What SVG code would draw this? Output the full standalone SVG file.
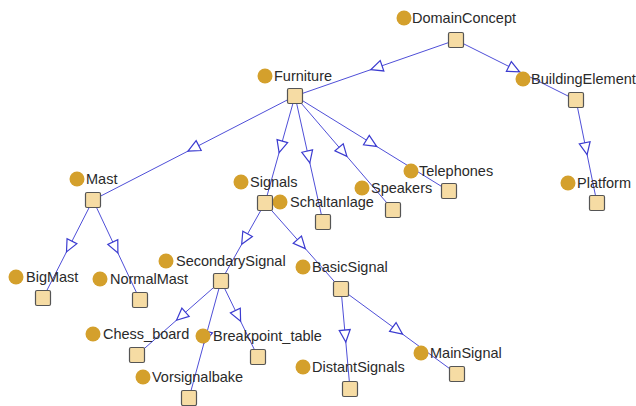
<svg xmlns="http://www.w3.org/2000/svg" width="636" height="406" viewBox="0 0 636 406">
<style>
.e{fill:none;stroke:#4f4fd8;stroke-width:1;marker-mid:url(#tri)}
.c{fill:#D4A02C}
.s{fill:#F6DCA4;stroke:#555;stroke-width:1.2}
.t{font-family:"Liberation Sans",Arial,sans-serif;font-size:14.5px;fill:#2a2a2a}
</style>
<defs>
<marker id="tri" markerUnits="userSpaceOnUse" markerWidth="16" markerHeight="14" viewBox="-13 -7 15 14" refX="0" refY="0" orient="auto">
<path d="M0,0 L-12,-5.5 L-12,5.5 Z" fill="#fff" stroke="#3b3bd0" stroke-width="1.2"/>
</marker>
</defs>
<rect width="636" height="406" fill="#fff"/>
<g id="connectors">
<path class="e" d="M456,40 L370.7,69.7 L295,96"/>
<path class="e" d="M456,40 L519.6,71.8 L576,100"/>
<path class="e" d="M576,100 L587.1,154.6 L597,203"/>
<path class="e" d="M295,96 L188,151.1 L93,200"/>
<path class="e" d="M295,96 L279.1,152.7 L265,203"/>
<path class="e" d="M295,96 L309.8,162.8 L323,222"/>
<path class="e" d="M295,96 L346.9,156.4 L393,210"/>
<path class="e" d="M295,96 L376.6,146.4 L449,191"/>
<path class="e" d="M93,200 L66.5,251.9 L43,298"/>
<path class="e" d="M93,200 L117.9,253 L140,300"/>
<path class="e" d="M265,203 L241.7,244.3 L221,281"/>
<path class="e" d="M265,203 L305.3,248.6 L341,289"/>
<path class="e" d="M221,281 L176.5,320.2 L137,355"/>
<path class="e" d="M221,281 L240.6,321.3 L258,357"/>
<path class="e" d="M221,281 L204,343 L189,398"/>
<path class="e" d="M341,289 L345.8,342 L350,389"/>
<path class="e" d="M341,289 L402.5,334.1 L457,374"/>
</g>
<g id="DomainConcept"><circle class="c" cx="404" cy="18" r="7.5"/><text class="t" x="412" y="23">DomainConcept</text><rect class="s" x="448.5" y="32.5" width="15" height="15" rx="1.5"/></g>
<g id="BuildingElement"><circle class="c" cx="523" cy="79" r="7.5"/><text class="t" x="531" y="84">BuildingElement</text><rect class="s" x="568.5" y="92.5" width="15" height="15" rx="1.5"/></g>
<g id="Furniture"><circle class="c" cx="265" cy="76" r="7.5"/><text class="t" x="274" y="81">Furniture</text><rect class="s" x="287.5" y="88.5" width="15" height="15" rx="1.5"/></g>
<g id="Telephones"><circle class="c" cx="411" cy="171" r="7.5"/><text class="t" x="419" y="176">Telephones</text><rect class="s" x="441.5" y="183.5" width="15" height="15" rx="1.5"/></g>
<g id="Speakers"><circle class="c" cx="362" cy="188" r="7.5"/><text class="t" x="371" y="193">Speakers</text><rect class="s" x="385.5" y="202.5" width="15" height="15" rx="1.5"/></g>
<g id="Schaltanlage"><circle class="c" cx="280" cy="202" r="7.5"/><text class="t" x="290" y="207">Schaltanlage</text><rect class="s" x="315.5" y="214.5" width="15" height="15" rx="1.5"/></g>
<g id="Signals"><circle class="c" cx="241" cy="182" r="7.5"/><text class="t" x="250" y="187">Signals</text><rect class="s" x="257.5" y="195.5" width="15" height="15" rx="1.5"/></g>
<g id="Mast"><circle class="c" cx="77" cy="179" r="7.5"/><text class="t" x="86" y="184">Mast</text><rect class="s" x="85.5" y="192.5" width="15" height="15" rx="1.5"/></g>
<g id="BigMast"><circle class="c" cx="16" cy="277" r="7.5"/><text class="t" x="26" y="282">BigMast</text><rect class="s" x="35.5" y="290.5" width="15" height="15" rx="1.5"/></g>
<g id="NormalMast"><circle class="c" cx="100" cy="279" r="7.5"/><text class="t" x="110" y="284">NormalMast</text><rect class="s" x="132.5" y="292.5" width="15" height="15" rx="1.5"/></g>
<g id="SecondarySignal"><circle class="c" cx="166" cy="261" r="7.5"/><text class="t" x="176" y="266">SecondarySignal</text><rect class="s" x="213.5" y="273.5" width="15" height="15" rx="1.5"/></g>
<g id="Chess_board"><circle class="c" cx="93" cy="334" r="7.5"/><text class="t" x="103" y="339">Chess_board</text><rect class="s" x="129.5" y="347.5" width="15" height="15" rx="1.5"/></g>
<g id="Breakpoint_table"><circle class="c" cx="203" cy="336" r="7.5"/><text class="t" x="213" y="341">Breakpoint_table</text><rect class="s" x="250.5" y="349.5" width="15" height="15" rx="1.5"/></g>
<g id="Vorsignalbake"><circle class="c" cx="143" cy="377" r="7.5"/><text class="t" x="152" y="382">Vorsignalbake</text><rect class="s" x="181.5" y="390.5" width="15" height="15" rx="1.5"/></g>
<g id="BasicSignal"><circle class="c" cx="303" cy="267" r="7.5"/><text class="t" x="312" y="272">BasicSignal</text><rect class="s" x="333.5" y="281.5" width="15" height="15" rx="1.5"/></g>
<g id="DistantSignals"><circle class="c" cx="303" cy="367" r="7.5"/><text class="t" x="312" y="372">DistantSignals</text><rect class="s" x="342.5" y="381.5" width="15" height="15" rx="1.5"/></g>
<g id="MainSignal"><circle class="c" cx="421" cy="353" r="7.5"/><text class="t" x="430" y="358">MainSignal</text><rect class="s" x="449.5" y="366.5" width="15" height="15" rx="1.5"/></g>
<g id="Platform"><circle class="c" cx="568" cy="183" r="7.5"/><text class="t" x="577" y="188">Platform</text><rect class="s" x="589.5" y="195.5" width="15" height="15" rx="1.5"/></g>
</svg>
